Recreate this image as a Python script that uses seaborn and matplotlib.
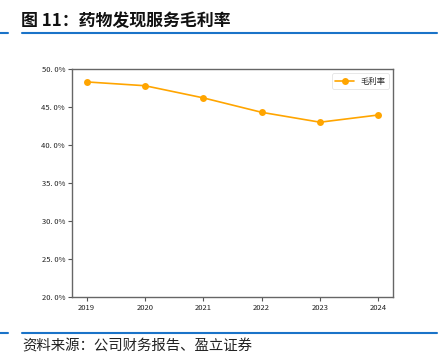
import matplotlib
matplotlib.use("Agg")
import matplotlib.pyplot as plt
from matplotlib.ticker import FuncFormatter
from matplotlib.lines import Line2D
import seaborn as sns
import pandas as pd

years = ["2019", "2020", "2021", "2022", "2023", "2024"]
gross_margin = [48.3, 47.8, 46.2, 44.3, 43.0, 43.95]
series_name = "毛利率"
title_text = "图 11：药物发现服务毛利率"
source_text = "资料来源：公司财务报告、盈立证券"

sns.set_style("ticks")
plt.rcParams['font.family'] = ['Noto Sans CJK SC', 'DejaVu Sans']

df = pd.DataFrame({"year": years, "value": gross_margin})

fig = plt.figure(figsize=(4.43, 3.62), dpi=100)
ax = fig.add_axes([72/443, 1-297/362, (393-72)/443, (297-69)/362])

sns.lineplot(data=df, x="year", y="value", ax=ax, color="#FFA500", marker="o",
             markersize=5, markeredgewidth=0, linewidth=1.2, label=series_name, sort=False)

ax.set_ylim(20, 50)
ax.set_yticks([20, 25, 30, 35, 40, 45, 50])
ax.yaxis.set_major_formatter(FuncFormatter(lambda v, p: f"{v:.1f}%".replace(".", ". ")))
ax.set_xlabel("")
ax.set_ylabel("")
ax.tick_params(axis="both", labelsize=5.5, length=3, width=0.8, color="#555555", labelcolor="#222222", pad=2)
for s in ax.spines.values():
    s.set_visible(True)
    s.set_color("#666666")
    s.set_linewidth(1.0)

leg = ax.legend(loc="upper right", fontsize=6, frameon=True, handlelength=2.2,
                borderpad=0.4, fancybox=True)
leg.get_frame().set_edgecolor("#dddddd")
leg.get_frame().set_linewidth(0.6)

fig.text(21/443, 1-21/362, title_text, fontsize=12.2, fontweight="bold", va="center", ha="left", color="#111111")
fig.add_artist(Line2D([0, 8/443], [1-33/362, 1-33/362], color="#1a73c8", linewidth=1.5))
fig.add_artist(Line2D([22/443, 437/443], [1-33/362, 1-33/362], color="#1a73c8", linewidth=1.5))
fig.add_artist(Line2D([0, 8/443], [1-333/362, 1-333/362], color="#1a73c8", linewidth=1.5))
fig.add_artist(Line2D([22/443, 437/443], [1-333/362, 1-333/362], color="#1a73c8", linewidth=1.5))
fig.text(22/443, 1-346/362, source_text, fontsize=10.4, fontweight="light", va="center", ha="left", color="#222222")

fig.savefig("out.png", dpi=100)
